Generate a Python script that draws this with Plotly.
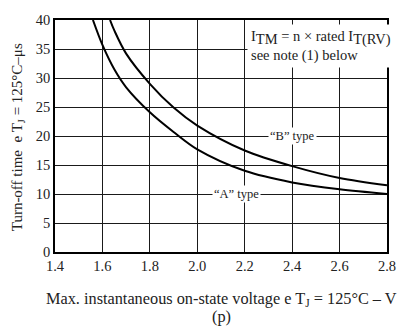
import plotly.graph_objects as go

# Data
a_x = [1.56, 1.6, 1.65, 1.7, 1.8, 1.9, 2.0, 2.2, 2.4, 2.6, 2.8]
a_y = [40.0, 35.7, 31.5, 28.4, 24.1, 20.7, 17.7, 14.0, 12.0, 10.8, 10.0]
b_x = [1.632, 1.65, 1.7, 1.8, 1.9, 2.0, 2.2, 2.4, 2.6, 2.8]
b_y = [40.0, 38.2, 34.2, 29.0, 24.9, 21.8, 17.5, 14.8, 12.75, 11.5]

x_ticks = [1.4, 1.6, 1.8, 2.0, 2.2, 2.4, 2.6, 2.8]
x_tick_labels = ["1.4", "1.6", "1.8", "2.0", "2.2", "2.4", "2.6", "2.8"]
y_ticks = [0, 5, 10, 15, 20, 25, 30, 35, 40]

FONT = "Liberation Serif"

fig = go.Figure()
for xs, ys in ((a_x, a_y), (b_x, b_y)):
    fig.add_trace(go.Scatter(x=xs, y=ys, mode="lines",
                             line=dict(color="black", width=2, shape="spline", smoothing=0.9),
                             showlegend=False, hoverinfo="skip"))

axis_common = dict(showgrid=True, gridcolor="#1a1a1a", gridwidth=1,
                   showline=True, linecolor="black", linewidth=1.5, mirror=True,
                   ticks="", zeroline=False,
                   tickfont=dict(family=FONT, size=14.5, color="#222"))

fig.update_xaxes(range=[1.4, 2.8], tickvals=x_ticks, ticktext=x_tick_labels, **axis_common)
fig.update_yaxes(range=[0, 40], tickvals=y_ticks, **axis_common)

ann_font = dict(family=FONT, size=12.5, color="#222")
fig.add_annotation(x=2.4, y=20, xref="x", yref="y", text="“B” type", showarrow=False,
                   bgcolor="white", font=ann_font, borderpad=1)
fig.add_annotation(x=2.165, y=10, xref="x", yref="y", text="“A” type", showarrow=False,
                   bgcolor="white", font=ann_font, borderpad=1)
box_font = dict(family=FONT, size=14.5, color="#222")
sub = '<sub><span style="font-size:14.5px">{}</span></sub>'
fig.add_annotation(x=2.2, y=39.25, xref="x", yref="y", xanchor="left", yanchor="top",
                   align="left", xshift=2,
                   text="I" + sub.format("TM") + " = n × rated I" + sub.format("T(RV)")
                        + "<br>see note (1) below",
                   showarrow=False, bgcolor="white", font=box_font, borderpad=3)

fig.add_annotation(x=0.5, y=(252.5 - 301) / 240.5, xref="paper", yref="paper",
                   text="Max. instantaneous on-state voltage e T<sub>J</sub> = 125°C – V",
                   showarrow=False, font=dict(family=FONT, size=16.3, color="#222"),
                   yanchor="middle")
fig.add_annotation(x=0.5, y=(252.5 - 319) / 240.5, xref="paper", yref="paper",
                   text="(p)", showarrow=False, font=dict(family=FONT, size=16.3, color="#222"),
                   yanchor="middle")
fig.add_annotation(x=(17 - 55) / 337, y=(252.5 - 134) / 240.5, xref="paper", yref="paper",
                   text="Turn-off time  e T<sub>J</sub> = 125°C–μs", textangle=-90,
                   showarrow=False, font=dict(family=FONT, size=15, color="#222"),
                   xanchor="center", yanchor="middle")

fig.update_layout(width=408, height=335,
                  margin=dict(l=55, r=16, t=12, b=82.5),
                  paper_bgcolor="white", plot_bgcolor="white")

fig.write_html("out.html", config={"displayModeBar": False},
               post_script="document.body.style.margin='0';document.body.style.overflow='hidden';")
